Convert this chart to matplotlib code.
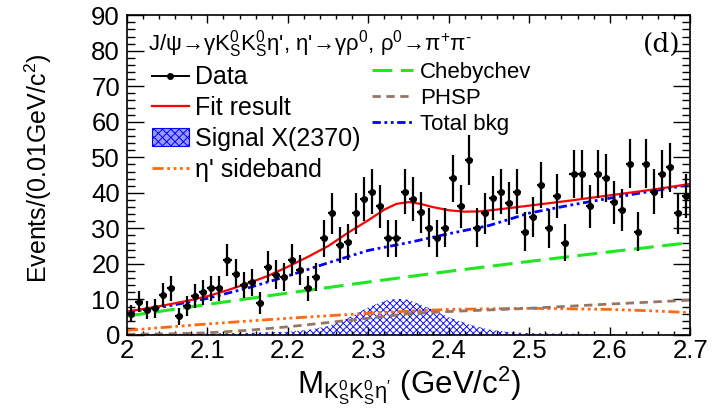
# Invariant mass spectrum with fit components

import numpy as np
import matplotlib
matplotlib.use('Agg')
import matplotlib.pyplot as plt
from matplotlib.lines import Line2D
from matplotlib.patches import Patch

plt.rcParams['font.family'] = ['Liberation Sans', 'DejaVu Sans']
plt.rcParams['mathtext.fontset'] = 'custom'
plt.rcParams['mathtext.rm'] = 'Liberation Sans'
plt.rcParams['mathtext.it'] = 'Liberation Sans'
plt.rcParams['mathtext.default'] = 'regular'
plt.rcParams['hatch.linewidth'] = 0.7

# Data: events per 0.01 GeV/c^2 bin, from 2.00 to 2.70
bin_lo = 2.0
bin_w = 0.01
counts = [6, 9.4, 7, 7.5, 11.2, 13.1, 5.2, 8.2, 11, 12,
          13.1, 13.1, 21.1, 17.3, 14.1, 14.8, 9, 19.2, 17, 16.3,
          21.1, 18.3, 13.1, 16.3, 27.2, 34.2, 25.3, 26.2, 34.2, 38.4,
          40.3, 36.2, 27.2, 27.2, 40.3, 38.3, 34.5, 30.2, 27.2, 30.2,
          44.1, 36.2, 49.2, 30.2, 34.2, 38.5, 40.3, 37.1, 40.3, 29.1,
          33.2, 42.2, 30.1, 39.1, 26, 45.3, 45.3, 36.2, 45.3, 44.2,
          37.3, 35.2, 48.2, 29.1, 48.2, 40.3, 45.4, 47.2, 34.2, 39.1]

# Fit result
fit_m = [2.0, 2.025, 2.05, 2.075, 2.1, 2.125, 2.15, 2.175, 2.2, 2.225, 2.25,
         2.275, 2.3, 2.32, 2.335, 2.35, 2.365, 2.38, 2.4, 2.42, 2.44, 2.46,
         2.5, 2.55, 2.6, 2.65, 2.7]
fit_y = [6.6, 7.5, 8.5, 9.6, 10.9, 12.6, 14.5, 16.6, 19.2, 22.0, 25.0,
         28.8, 32.3, 35.3, 36.9, 37.4, 36.9, 36.0, 35.1, 34.7, 34.8, 35.3,
         36.4, 37.8, 39.3, 40.8, 42.5]

# Total background
bkg_m = [2.0, 2.05, 2.1, 2.15, 2.2, 2.25, 2.3, 2.35, 2.4, 2.45, 2.5, 2.55, 2.6, 2.65, 2.7]
bkg_y = [6.4, 8.1, 10.3, 13.2, 16.6, 20.3, 23.8, 26.0, 28.5, 30.8, 34.3, 36.5, 38.5, 40.4, 42.3]

# Chebychev
cheb_m = [2.0, 2.1, 2.2, 2.3, 2.4, 2.5, 2.6, 2.7]
cheb_y = [5.3, 8.6, 11.8, 14.9, 17.9, 20.7, 23.4, 26.0]

# PHSP
phsp_m = [2.0, 2.05, 2.1, 2.15, 2.2, 2.25, 2.3, 2.35, 2.4, 2.5, 2.6, 2.7]
phsp_y = [0.2, 0.3, 0.6, 1.3, 2.3, 3.5, 4.7, 6.0, 6.6, 7.5, 8.7, 9.8]

# eta' sideband
sb_m = [2.0, 2.05, 2.1, 2.15, 2.2, 2.25, 2.3, 2.35, 2.4, 2.5, 2.6, 2.65, 2.7]
sb_y = [1.3, 2.2, 3.1, 3.9, 4.7, 5.4, 6.1, 6.7, 7.2, 7.5, 7.2, 6.8, 6.3]

# Signal X(2370)
sig_m = [2.0, 2.1, 2.15, 2.2, 2.225, 2.25, 2.275, 2.3, 2.32, 2.335, 2.35,
         2.375, 2.4, 2.425, 2.45, 2.475, 2.5, 2.6, 2.7]
sig_y = [0.2, 0.4, 0.6, 0.9, 1.4, 2.5, 4.8, 7.8, 9.6, 10.2, 9.9,
         7.6, 5.0, 3.0, 1.5, 0.8, 0.5, 0.2, 0.1]

counts = np.array(counts)
centers = bin_lo + bin_w * (np.arange(len(counts)) + 0.5)

fig = plt.figure(figsize=(7.13, 4.11), dpi=100)
ax = fig.add_axes([0.178, 0.185, 0.79, 0.778])

green = '#1ee81e'
brown = '#967565'
orange = '#ff6a10'
sb_dash = (4, 1.3, 1, 1.3, 1, 1.3, 1, 1.3)
bkg_dash = (3, 1.3, 1, 1.3, 1, 1.3)

ax.fill_between(sig_m, 0, sig_y, facecolor='none', edgecolor='#1010ff',
                hatch='xxxxx', linewidth=0)
ax.plot(sb_m, sb_y, color=orange, lw=2.0, dashes=sb_dash)
ax.plot(phsp_m, phsp_y, color=brown, lw=2.0, dashes=(3, 2))
ax.plot(cheb_m, cheb_y, color=green, lw=2.2, dashes=(6.5, 2.8))
ax.plot(bkg_m, bkg_y, color='blue', lw=2.0, dashes=bkg_dash)
ax.plot(fit_m, fit_y, color='red', lw=1.6)
ax.errorbar(centers, counts, yerr=np.sqrt(counts), xerr=bin_w / 2, fmt='o',
            color='black', ms=4, elinewidth=1.6, capsize=0)

ax.set_xlim(2.0, 2.7)
ax.set_ylim(0, 90)
ax.set_xticks(np.arange(2.0, 2.71, 0.1))
ax.set_xticklabels(['2', '2.1', '2.2', '2.3', '2.4', '2.5', '2.6', '2.7'])
ax.set_xticks(np.arange(2.0, 2.701, 0.02), minor=True)
ax.set_yticks(np.arange(0, 91, 10))
ax.set_yticks(np.arange(0, 91, 2), minor=True)
ax.tick_params(which='both', direction='in', top=True, right=True, labelsize=18.5, width=1)
ax.tick_params(axis='y', which='major', length=12, pad=5)
ax.tick_params(axis='y', which='minor', length=6)
ax.tick_params(axis='x', which='major', length=6, pad=3)
ax.tick_params(axis='x', which='minor', length=3)
for s in ax.spines.values():
    s.set_linewidth(1.2)

ax.set_ylabel('Events/(0.01GeV/c$^2$)', fontsize=18)
ax.yaxis.set_label_coords(-0.13, 0.52)
ax.set_xlabel("M$_{K^0_SK^0_S\u03b7'}$ (GeV/c$^2$)", fontsize=22.5, labelpad=1)

ax.text(0.038, 0.909,
        "J/\u03c8\u2192\u03b3K$^0_S$K$^0_S$\u03b7', \u03b7'\u2192\u03b3\u03c1$^0$, "
        "\u03c1$^0$\u2192\u03c0$^{\\text{+}}$\u03c0$^{\\text{-}}$",
        transform=ax.transAxes, fontsize=16, va='center')
ax.text(0.982, 0.909, '(d)', transform=ax.transAxes, fontsize=19, va='center', ha='right',
        family='DejaVu Serif')

left_handles = [
    Line2D([], [], color='black', marker='o', ms=4, lw=1.4),
    Line2D([], [], color='red', lw=1.6),
    Patch(facecolor='#9999ff', edgecolor='blue', hatch='xxxx', lw=0.8),
    Line2D([], [], color=orange, lw=2.0, dashes=sb_dash),
]
left_labels = ['Data', 'Fit result', 'Signal X(2370)', "\u03b7' sideband"]
leg1 = ax.legend(left_handles, left_labels, loc='upper left', bbox_to_anchor=(0.044, 0.843),
                 frameon=False, fontsize=18, handlelength=1.5, handletextpad=0.25,
                 labelspacing=0.27, borderaxespad=0, borderpad=0)
ax.add_artist(leg1)

right_handles = [
    Line2D([], [], color=green, lw=2.2, dashes=(6.5, 2.8)),
    Line2D([], [], color=brown, lw=2.0, dashes=(3, 2)),
    Line2D([], [], color='blue', lw=2.0, dashes=bkg_dash),
]
right_labels = ['Chebychev', 'PHSP', 'Total bkg']
ax.legend(right_handles, right_labels, loc='upper left', bbox_to_anchor=(0.435, 0.853),
          frameon=False, fontsize=16, handlelength=1.85, handletextpad=0.32,
          labelspacing=0.22, borderaxespad=0, borderpad=0)

fig.savefig('out.png', dpi=100)
